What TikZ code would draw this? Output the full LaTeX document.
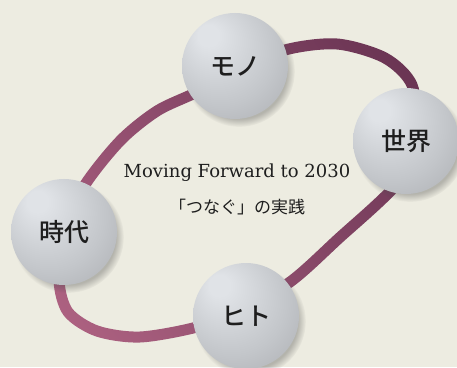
\documentclass[tikz,border=0pt]{standalone}
\usepackage{fontspec}
\setmainfont{DejaVu Serif}
\newfontfamily\cjk{Noto Sans CJK JP}
\newfontfamily\cjkm{Noto Sans CJK JP}[UprightFont=* Medium]
\usetikzlibrary{shadows,fadings,shadings}
\definecolor{bg}{HTML}{EDECE1}
\definecolor{ringUR}{HTML}{5F2D4B}
\definecolor{ringUL}{HTML}{955072}
\definecolor{ringLR}{HTML}{7C4161}
\definecolor{ringLL}{HTML}{BA6A89}
\definecolor{sphhi}{HTML}{E0E3E7}
\definecolor{sphmid}{HTML}{C3C6CA}
\definecolor{sphlo}{HTML}{AAACB0}
\definecolor{sphrim}{HTML}{989A9E}
\definecolor{txt}{HTML}{1E1E1E}
\pgfdeclareradialshading{sph}{\pgfpoint{-14bp}{16bp}}{color(0bp)=(sphhi); color(5bp)=(sphhi); color(26bp)=(sphmid); color(42bp)=(sphlo); color(50bp)=(sphrim)}
\def\ringpath{plot[smooth cycle] coordinates {(235,295) (285,317) (337,323) (385,309) (412,282) (415,237) (400,187) (337,127) (290,85) (240,57) (197,40) (140,30) (97,36) (68,55) (59,87) (65,132) (83,179) (120,226) (157,256) (195,274)}}
\begin{tikzfadingfrompicture}[name=ringmask, x=1pt, y=1pt]
  \fill[transparent!100] (-30,-30) rectangle (487,397);
  \draw[transparent!0, line width=11pt] \ringpath;
\end{tikzfadingfrompicture}
\tikzset{
  sphere/.style={circle, minimum size=106pt, inner sep=0pt, shading=sph,
    circular drop shadow={shadow xshift=4pt, shadow yshift=-5pt, opacity=0.35, fill=black!70, shadow scale=1.05},
    font=\cjkm\fontsize{25}{25}\selectfont, text=txt},
  centertext/.style={text=txt, inner sep=0pt}
}
\begin{document}
\begin{tikzpicture}[x=1pt,y=1pt]
\fill[bg] (0,0) rectangle (457,367);
\useasboundingbox (0,0) rectangle (457,367);
\begin{scope}[transform canvas={shift={(228.5pt,183.5pt)}}]
\shade[path fading=ringmask, fit fading=false, upper left=ringUL, upper right=ringUR, lower left=ringLL, lower right=ringLR] (-228.5,-183.5) rectangle (228.5,183.5);
\end{scope}
\node[sphere] (mono) at (235,301) {モノ};
\node[sphere] (sekai) at (406,226) {世界};
\node[sphere] (jidai) at (64,135) {時代};
\node[sphere] (hito) at (246,51) {ヒト};
\node[centertext, font=\fontsize{18}{20}\selectfont] (t1) at (237,194) {Moving Forward to 2030};
\node[centertext, font=\cjk\fontsize{17}{20}\selectfont] (t2) at (237,160) {「つなぐ」の実践};
\end{tikzpicture}
\end{document}
